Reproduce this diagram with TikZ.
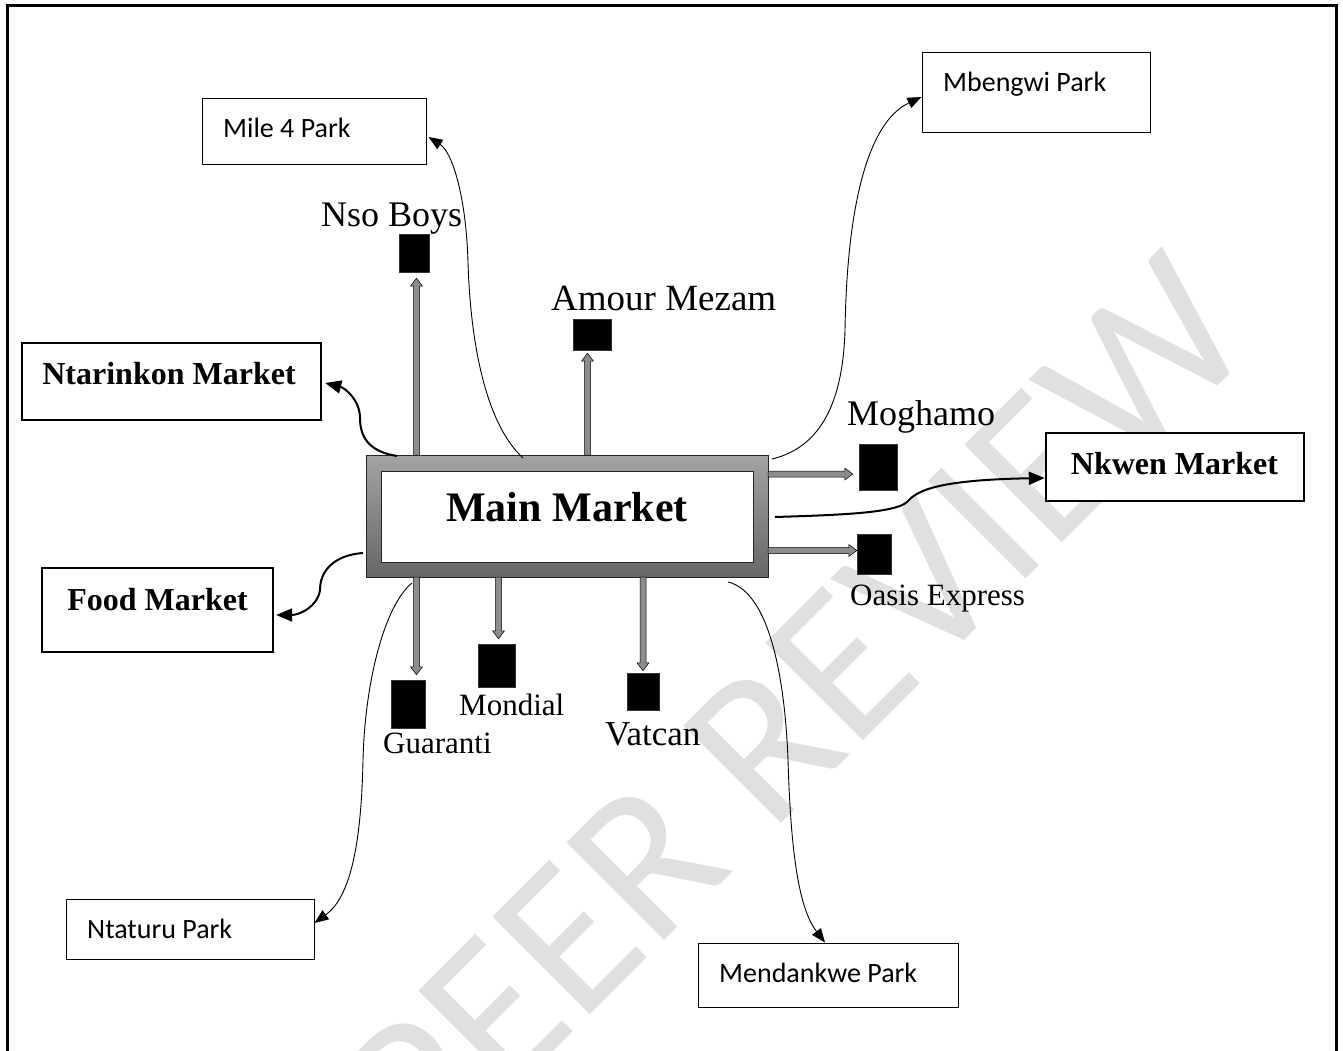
\documentclass[tikz,border=0pt]{standalone}
\usepackage{fontspec}
\newfontfamily\serffont{Liberation Serif}
\newfontfamily\calfont{Carlito}
\usetikzlibrary{arrows.meta,calc}
\begin{document}
\begin{tikzpicture}[x=1pt,y=1pt,
  park/.style={draw=black, line width=1pt, fill=white, inner sep=0pt},
  mkt/.style={draw=black, line width=2.4pt, fill=white, inner sep=0pt},
  sqr/.style={fill=black, draw=black!80, line width=0.4pt, inner sep=0pt},
  lbl/.style={inner sep=0pt, anchor=base west, font=\serffont\fontsize{#1}{#1}\selectfont},
  parktxt/.style={inner sep=0pt, anchor=base west, font=\calfont\fontsize{28}{28}\selectfont},
  mkttxt/.style={inner sep=0pt, anchor=base, font=\serffont\bfseries\fontsize{32}{32}\selectfont},
  thinarrow/.style={line width=0.9pt, -{Triangle[length=14pt,width=11pt]}},
  thickarrow/.style={line width=2pt, -{Triangle[length=16pt,width=13pt]}},
  blockarrow/.style={draw=black, fill=black!45, line width=0.5pt,
    to path={let \p1=(\tikztostart), \p2=(\tikztotarget),
      \n1={atan2(\y2-\y1,\x2-\x1)}, \n2={veclen(\x2-\x1,\y2-\y1)} in
      ($(\p1)+(\n1+90:3)$) -- ($(\p1)+(\n1:\n2-8)+(\n1+90:3)$)
      -- ($(\p1)+(\n1:\n2-8)+(\n1+90:6)$) -- (\p2)
      -- ($(\p1)+(\n1:\n2-8)+(\n1-90:6)$) -- ($(\p1)+(\n1:\n2-8)+(\n1-90:3)$)
      -- ($(\p1)+(\n1-90:3)$) -- cycle}}
]
\useasboundingbox (0,0) rectangle (1343,-1051);

% watermark
\node[rotate=45, text=black!12, inner sep=0pt, font=\calfont\fontsize{215}{215}\selectfont] (wm) at (795,-712) {PEER REVIEW};

% frame
\draw[line width=3pt] (7,-1070) -- (7,-6) -- (1336,-6) -- (1336,-1070);

% park boxes
\node[park, minimum width=224pt, minimum height=66pt] (m4) at (314,-132) {};
\node[parktxt] (m4t) at (223,-138) {Mile 4 Park};
\node[park, minimum width=228pt, minimum height=80pt] (mb) at (1036,-93) {};
\node[parktxt] (mbt) at (943,-92) {Mbengwi Park};
\node[park, minimum width=248pt, minimum height=60pt] (nt) at (190,-929) {};
\node[parktxt] (ntt) at (87,-938) {Ntaturu Park};
\node[park, minimum width=260pt, minimum height=64pt] (md) at (828,-975) {};
\node[parktxt] (mdt) at (719,-982) {Mendankwe Park};

% market boxes
\node[mkt, minimum width=299pt, minimum height=77pt] (nk) at (171.5,-381.5) {};
\node[mkttxt] (nkt) at (169,-384) {Ntarinkon Market};
\node[mkt, minimum width=231pt, minimum height=84pt] (fm) at (157.5,-610) {};
\node[mkttxt] (fmt) at (157.5,-610) {Food Market};
\node[mkt, minimum width=258pt, minimum height=68pt] (nw) at (1175,-467) {};
\node[mkttxt] (nwt) at (1174.5,-474) {Nkwen Market};

% main market
\node[draw=black!85, line width=0.8pt, top color=black!36, bottom color=black!60,
      minimum width=402pt, minimum height=122pt, inner sep=0pt] (mm) at (567,-516) {};
\node[draw=black!85, line width=0.8pt, fill=white, minimum width=372pt, minimum height=91pt, inner sep=0pt] (mmi) at (567,-516.5) {};
\node[inner sep=0pt, anchor=base, font=\serffont\bfseries\fontsize{42}{42}\selectfont] (mmt) at (567,-521) {Main Market};

% squares
\node[sqr, minimum width=30pt, minimum height=38pt] (nsq) at (414,-253) {};
\node[sqr, minimum width=38pt, minimum height=31pt] (amq) at (592,-334.5) {};
\node[sqr, minimum width=38pt, minimum height=46pt] (mgq) at (878,-467) {};
\node[sqr, minimum width=34pt, minimum height=40pt] (oeq) at (874,-554) {};
\node[sqr, minimum width=34pt, minimum height=48pt] (gq) at (408,-704) {};
\node[sqr, minimum width=37pt, minimum height=43pt] (moq) at (496.5,-665.5) {};
\node[sqr, minimum width=32pt, minimum height=37pt] (vq) at (643,-691.5) {};

% square labels
\node[lbl=36] (nsl) at (321,-226) {Nso Boys};
\node[lbl=37] (aml) at (551,-310) {Amour Mezam};
\node[lbl=36] (mgl) at (847,-425) {Moghamo};
\node[lbl=31] (oel) at (850,-605) {Oasis Express};
\node[lbl=31] (gl) at (383,-753) {Guaranti};
\node[lbl=31] (mol) at (459,-715) {Mondial};
\node[lbl=35] (vl) at (605,-745) {Vatcan};

% block arrow start points on the main market frame
\coordinate (nsS) at (416.5,-455);
\coordinate (amS) at (587.5,-455);
\coordinate (mgS) at (768,-474);
\coordinate (oeS) at (768,-550.5);
\coordinate (gS) at (416.5,-577);
\coordinate (moS) at (498.5,-577);
\coordinate (vS) at (643,-577);

\draw[blockarrow] (nsS) to ([xshift=2.5,yshift=-6]nsq.south);
\draw[blockarrow] (amS) to ([xshift=-4.5,yshift=-3]amq.south);
\draw[blockarrow] (mgS) to ([xshift=-6,yshift=-7]mgq.west);
\draw[blockarrow] (oeS) to ([yshift=3.5]oeq.west);
\draw[blockarrow] (gS) to ([xshift=8.5,yshift=5]gq.north);
\draw[blockarrow] (moS) to ([xshift=2,yshift=5]moq.north);
\draw[blockarrow] (vS) to ([yshift=2]vq.north);

% curve start points
\coordinate (m4S) at (523,-458);
\coordinate (mbS) at (772,-459);
\coordinate (ntS) at (412,-583);
\coordinate (mdS) at (728,-582);
\coordinate (nkS) at (397,-456);
\coordinate (fmS) at (363,-553);
\coordinate (nwS) at (775,-517);

% thin curves to parks
\draw[thinarrow] (m4S) .. controls (482,-420) and (470,-330) .. (468,-262)
   .. controls (466,-195) and (452,-152) .. ([xshift=2,yshift=-5]m4.east);
\draw[thinarrow] (mbS) .. controls (822,-447) and (843,-400) .. (845,-330)
   .. controls (847,-205) and (868,-122) .. ([yshift=-4]mb.west);
\draw[thinarrow] (ntS) .. controls (385,-605) and (365,-680) .. (363,-760)
   .. controls (361,-860) and (346,-900) .. ([yshift=6]nt.east);
\draw[thinarrow] (mdS) .. controls (770,-592) and (785,-680) .. (788,-760)
   .. controls (791,-860) and (800,-910) .. ([xshift=-3]md.north);

% thick curves to markets
\draw[thickarrow] (nkS) .. controls (372,-452) and (360,-440) .. (360,-418)
   .. controls (360,-400) and (345,-388) .. ([xshift=3,yshift=-1.5]nk.east);
\draw[thickarrow] (fmS) .. controls (335,-555) and (320,-570) .. (320,-590)
   .. controls (318,-606) and (300,-615) .. ([xshift=2,yshift=-5]fm.east);
\draw[thickarrow] (nwS) .. controls (840,-515) and (895,-513) .. (907,-502)
   .. controls (916,-492) and (932,-480) .. ([yshift=-11]nw.west);
\end{tikzpicture}
\end{document}
